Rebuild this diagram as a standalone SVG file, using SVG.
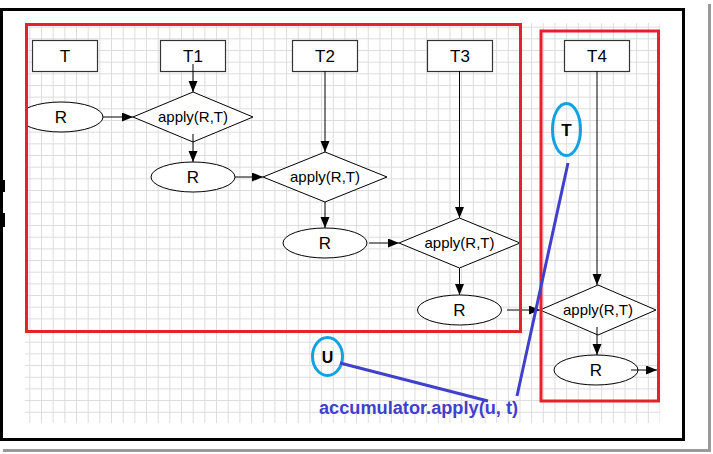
<svg xmlns="http://www.w3.org/2000/svg" width="713" height="454" viewBox="0 0 713 454">
<style>
.box{fill:#fff;stroke:#333;stroke-width:1.2}
.ell{fill:#fff;stroke:#000;stroke-width:1}
.dia{fill:#fff;stroke:#000;stroke-width:1}
.lbl{font-family:"Liberation Sans",Arial,sans-serif;font-size:17px;fill:#000;text-anchor:middle}
.ap{font-family:"Liberation Sans",Arial,sans-serif;font-size:15px;fill:#000;text-anchor:middle}
.con{stroke:#000;stroke-width:1;fill:none;marker-end:url(#ah)}
.grp{fill:none;stroke:#e8202a;stroke-width:3}
.bc{fill:none;stroke:#12a2e2;stroke-width:3}
.bl{stroke:#4040cc;stroke-width:3;fill:none}
.bt{font-family:"Liberation Sans",Arial,sans-serif;font-weight:bold;fill:#000;text-anchor:middle}
</style>
<defs>
<pattern id="grid" patternUnits="userSpaceOnUse" x="6" y="3.3" width="11.67" height="11.67">
<path d="M0.5,0 V11.67 M0,0.5 H11.67" stroke="#dcdcdc" stroke-width="1" fill="none"/>
</pattern>
<marker id="ah" markerUnits="userSpaceOnUse" markerWidth="12" markerHeight="10" refX="11" refY="4.5" orient="auto">
<path d="M0,0 L11,4.5 L0,9 z" fill="#000"/>
</marker>
<clipPath id="cl"><rect x="28" y="0" width="200" height="300"/></clipPath>
</defs>
<rect width="713" height="454" fill="#fff"/>
<rect x="25" y="23" width="635" height="400" fill="url(#grid)"/>
<!-- frame -->
<rect x="1.5" y="9.5" width="682" height="430" fill="none" stroke="#000" stroke-width="3"/>
<rect x="0" y="180" width="5" height="12" fill="#000"/>
<rect x="0" y="213" width="5" height="14" fill="#000"/>
<rect x="708" y="4" width="3" height="448" fill="#9a9a9a"/>
<rect x="3" y="449" width="708" height="3" fill="#9a9a9a"/>

<g id="nT"><rect class="box" x="32.5" y="40.5" width="65" height="31"/><text class="lbl" x="65" y="62">T</text></g>
<g id="nT1"><rect class="box" x="160.5" y="40.5" width="65" height="31"/><text class="lbl" x="193" y="62">T1</text></g>
<g id="nT2"><rect class="box" x="292.5" y="40.5" width="65" height="31"/><text class="lbl" x="325" y="62">T2</text></g>
<g id="nT3"><rect class="box" x="427.5" y="40.5" width="65" height="31"/><text class="lbl" x="460" y="62">T3</text></g>
<g id="nT4"><rect class="box" x="564.5" y="40.5" width="65" height="31"/><text class="lbl" x="597" y="62">T4</text></g>

<g id="nR1"><ellipse class="ell" cx="61" cy="117" rx="42" ry="15" clip-path="url(#cl)"/><text class="lbl" x="61" y="123">R</text></g>
<g id="nD1"><polygon class="dia" points="133,117 193,92 253,117 193,142"/><text class="ap" x="193" y="122">apply(R,T)</text></g>
<g id="nR2"><ellipse class="ell" cx="193" cy="177" rx="42" ry="15"/><text class="lbl" x="193" y="183">R</text></g>
<g id="nD2"><polygon class="dia" points="263,177 325,152 387,177 325,202"/><text class="ap" x="325" y="182">apply(R,T)</text></g>
<g id="nR3"><ellipse class="ell" cx="325" cy="243" rx="42" ry="15"/><text class="lbl" x="325" y="249">R</text></g>
<g id="nD3"><polygon class="dia" points="399,243 459.5,218 520,243 459.5,268"/><text class="ap" x="459.5" y="248">apply(R,T)</text></g>
<g id="nR4"><ellipse class="ell" cx="459.5" cy="310" rx="42" ry="15"/><text class="lbl" x="459.5" y="316">R</text></g>
<g id="nD4"><polygon class="dia" points="540,310 598,285 656,310 598,335"/><text class="ap" x="598" y="315">apply(R,T)</text></g>
<g id="nR5"><ellipse class="ell" cx="596" cy="370" rx="42" ry="15"/><text class="lbl" x="596" y="376">R</text></g>

<g id="connectors">
<line class="con" x1="193" y1="64" x2="193" y2="92"/>
<line class="con" x1="103" y1="117" x2="133" y2="117"/>
<line class="con" x1="193" y1="134" x2="193" y2="162"/>
<line class="con" x1="235" y1="177" x2="263" y2="177"/>
<line class="con" x1="325" y1="71" x2="325" y2="152"/>
<line class="con" x1="325" y1="202" x2="325" y2="228"/>
<line class="con" x1="369" y1="243" x2="399" y2="243"/>
<line class="con" x1="459.5" y1="71" x2="459.5" y2="218"/>
<line class="con" x1="459.5" y1="268" x2="459.5" y2="295"/>
<line class="con" x1="507" y1="310" x2="540" y2="310"/>
<line class="con" x1="597" y1="71" x2="597" y2="285"/>
<line class="con" x1="597" y1="327" x2="597" y2="355"/>
<line class="con" x1="631" y1="370" x2="657" y2="370"/>
</g>

<g id="groups">
<rect class="grp" x="26.5" y="24.5" width="494" height="307"/>
<rect class="grp" x="541" y="31" width="117.5" height="370"/>
</g>

<g id="nTc"><ellipse class="bc" cx="566.5" cy="129.5" rx="14" ry="26"/><text class="bt" x="566.5" y="136" font-size="17">T</text></g>
<g id="nU"><ellipse class="bc" cx="327.5" cy="356.5" rx="15" ry="19"/><text class="bt" x="327.5" y="362.5" font-size="16">U</text></g>
<g id="annot">
<line class="bl" x1="568" y1="163" x2="517" y2="396"/>
<line class="bl" x1="340" y1="363" x2="488" y2="401"/>
<text x="319" y="413.5" font-family="'Liberation Sans',Arial,sans-serif" font-weight="bold" font-size="17.5" fill="#4040cc" textLength="199" lengthAdjust="spacingAndGlyphs">accumulator.apply(u, t)</text>
</g>
</svg>
